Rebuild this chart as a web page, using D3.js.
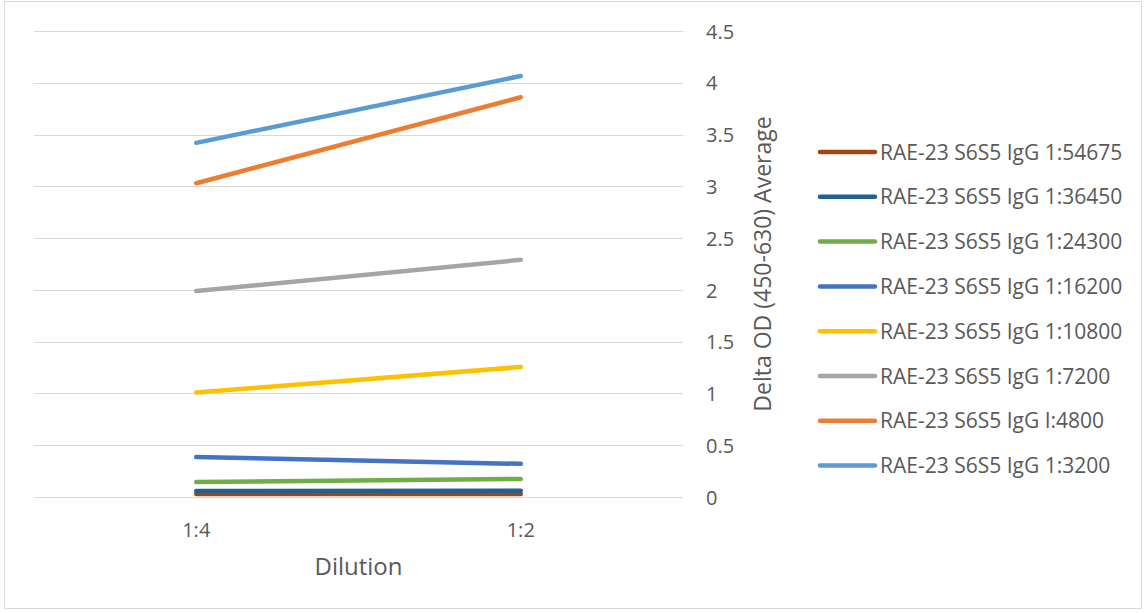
<!DOCTYPE html>
<html>
<head>
<meta charset="utf-8">
<script src="https://cdn.jsdelivr.net/npm/d3@7"></script>
<style>
  html, body { margin: 0; padding: 0; background: #fff; }
  svg text { font-family: "Open Sans", Lato, sans-serif; fill: #595959; }
</style>
</head>
<body>
<svg id="chart" width="1146" height="613"></svg>
<script>
// Dilution categories on the x axis
const dilutions = ["1:4", "1:2"];

// Series names (antibody dilution) and colours
const seriesNames = [
  "RAE-23 S6S5 IgG 1:54675",
  "RAE-23 S6S5 IgG 1:36450",
  "RAE-23 S6S5 IgG 1:24300",
  "RAE-23 S6S5 IgG 1:16200",
  "RAE-23 S6S5 IgG 1:10800",
  "RAE-23 S6S5 IgG 1:7200",
  "RAE-23 S6S5 IgG I:4800",
  "RAE-23 S6S5 IgG 1:3200"
];
const seriesColors = ["#9E480E", "#255E91", "#70AD47", "#4472C4", "#FFC000", "#A5A5A5", "#ED7D31", "#5B9BD5"];

// Delta OD values at 1:4 and 1:2
const s54675 = [0.03, 0.03];
const s36450 = [0.058, 0.06];
const s24300 = [0.145, 0.174];
const s16200 = [0.386, 0.32];
const s10800 = [1.01, 1.255];
const s7200  = [1.99, 2.29];
const s4800  = [3.03, 3.86];
const s3200  = [3.42, 4.065];
const seriesValues = [s54675, s36450, s24300, s16200, s10800, s7200, s4800, s3200];

const yTicks = [0, 0.5, 1, 1.5, 2, 2.5, 3, 3.5, 4, 4.5];

const FONT = "'Open Sans', Lato, sans-serif";
const svg = d3.select("#chart");

// outer chart frame
svg.append("rect")
  .attr("x", 4.5).attr("y", 1.5)
  .attr("width", 1137).attr("height", 607)
  .attr("fill", "#fff").attr("stroke", "#d9d9d9").attr("stroke-width", 1);

const plot = { left: 34, right: 683, top: 31, bottom: 497 };

const x = d3.scaleBand().domain(dilutions).range([plot.left, plot.right]);
const y = d3.scaleLinear().domain([0, 4.5]).range([plot.bottom, plot.top]);

// gridlines
svg.append("g")
  .selectAll("line")
  .data(yTicks)
  .join("line")
  .attr("x1", plot.left).attr("x2", plot.right)
  .attr("y1", d => Math.round(y(d)) + 0.5).attr("y2", d => Math.round(y(d)) + 0.5)
  .attr("stroke", "#d9d9d9").attr("stroke-width", 1);

// right-hand value axis labels
const yAxis = d3.axisRight(y).tickValues(yTicks).tickSize(0).tickPadding(0)
  .tickFormat(d3.format("~g"));
svg.append("g")
  .attr("transform", `translate(${plot.right + 23},0)`)
  .call(yAxis)
  .call(g => g.select(".domain").remove())
  .selectAll("text")
  .attr("font-size", 20)
  .attr("dy", "0.36em")
  .attr("fill", "#595959")
  .attr("font-family", FONT);

// category labels
const xAxis = d3.axisBottom(x).tickSize(0).tickPadding(0);
svg.append("g")
  .attr("transform", `translate(0,537)`)
  .call(xAxis)
  .call(g => g.select(".domain").remove())
  .selectAll("text")
  .attr("y", 0)
  .attr("dy", 0)
  .attr("font-size", 20)
  .attr("fill", "#595959")
  .attr("font-family", FONT);

// axis titles
svg.append("text")
  .attr("x", (plot.left + plot.right) / 2)
  .attr("y", 575)
  .attr("text-anchor", "middle")
  .attr("font-size", 24)
  .text("Dilution");

svg.append("text")
  .attr("transform", `translate(771,${(plot.top + plot.bottom) / 2}) rotate(-90)`)
  .attr("text-anchor", "middle")
  .attr("font-size", 23)
  .text("Delta OD (450-630) Average");

// series lines
const line = d3.line()
  .x((d, i) => x(dilutions[i]) + x.bandwidth() / 2)
  .y(d => y(d));

svg.append("g")
  .selectAll("path")
  .data(seriesValues)
  .join("path")
  .attr("d", line)
  .attr("fill", "none")
  .attr("stroke", (d, i) => seriesColors[i])
  .attr("stroke-width", 4.5)
  .attr("stroke-linecap", "round");

// legend
const legend = svg.append("g");
const legendItems = legend.selectAll("g")
  .data(seriesNames)
  .join("g")
  .attr("transform", (d, i) => `translate(820,${152 + i * 44.8})`);
legendItems.append("line")
  .attr("x1", 0).attr("x2", 55)
  .attr("y1", 0).attr("y2", 0)
  .attr("stroke", (d, i) => seriesColors[i])
  .attr("stroke-width", 4.5)
  .attr("stroke-linecap", "round");
legendItems.append("text")
  .attr("x", 60)
  .attr("y", 0)
  .attr("dy", "0.36em")
  .attr("font-size", 21)
  .text(d => d);
</script>
</body>
</html>
